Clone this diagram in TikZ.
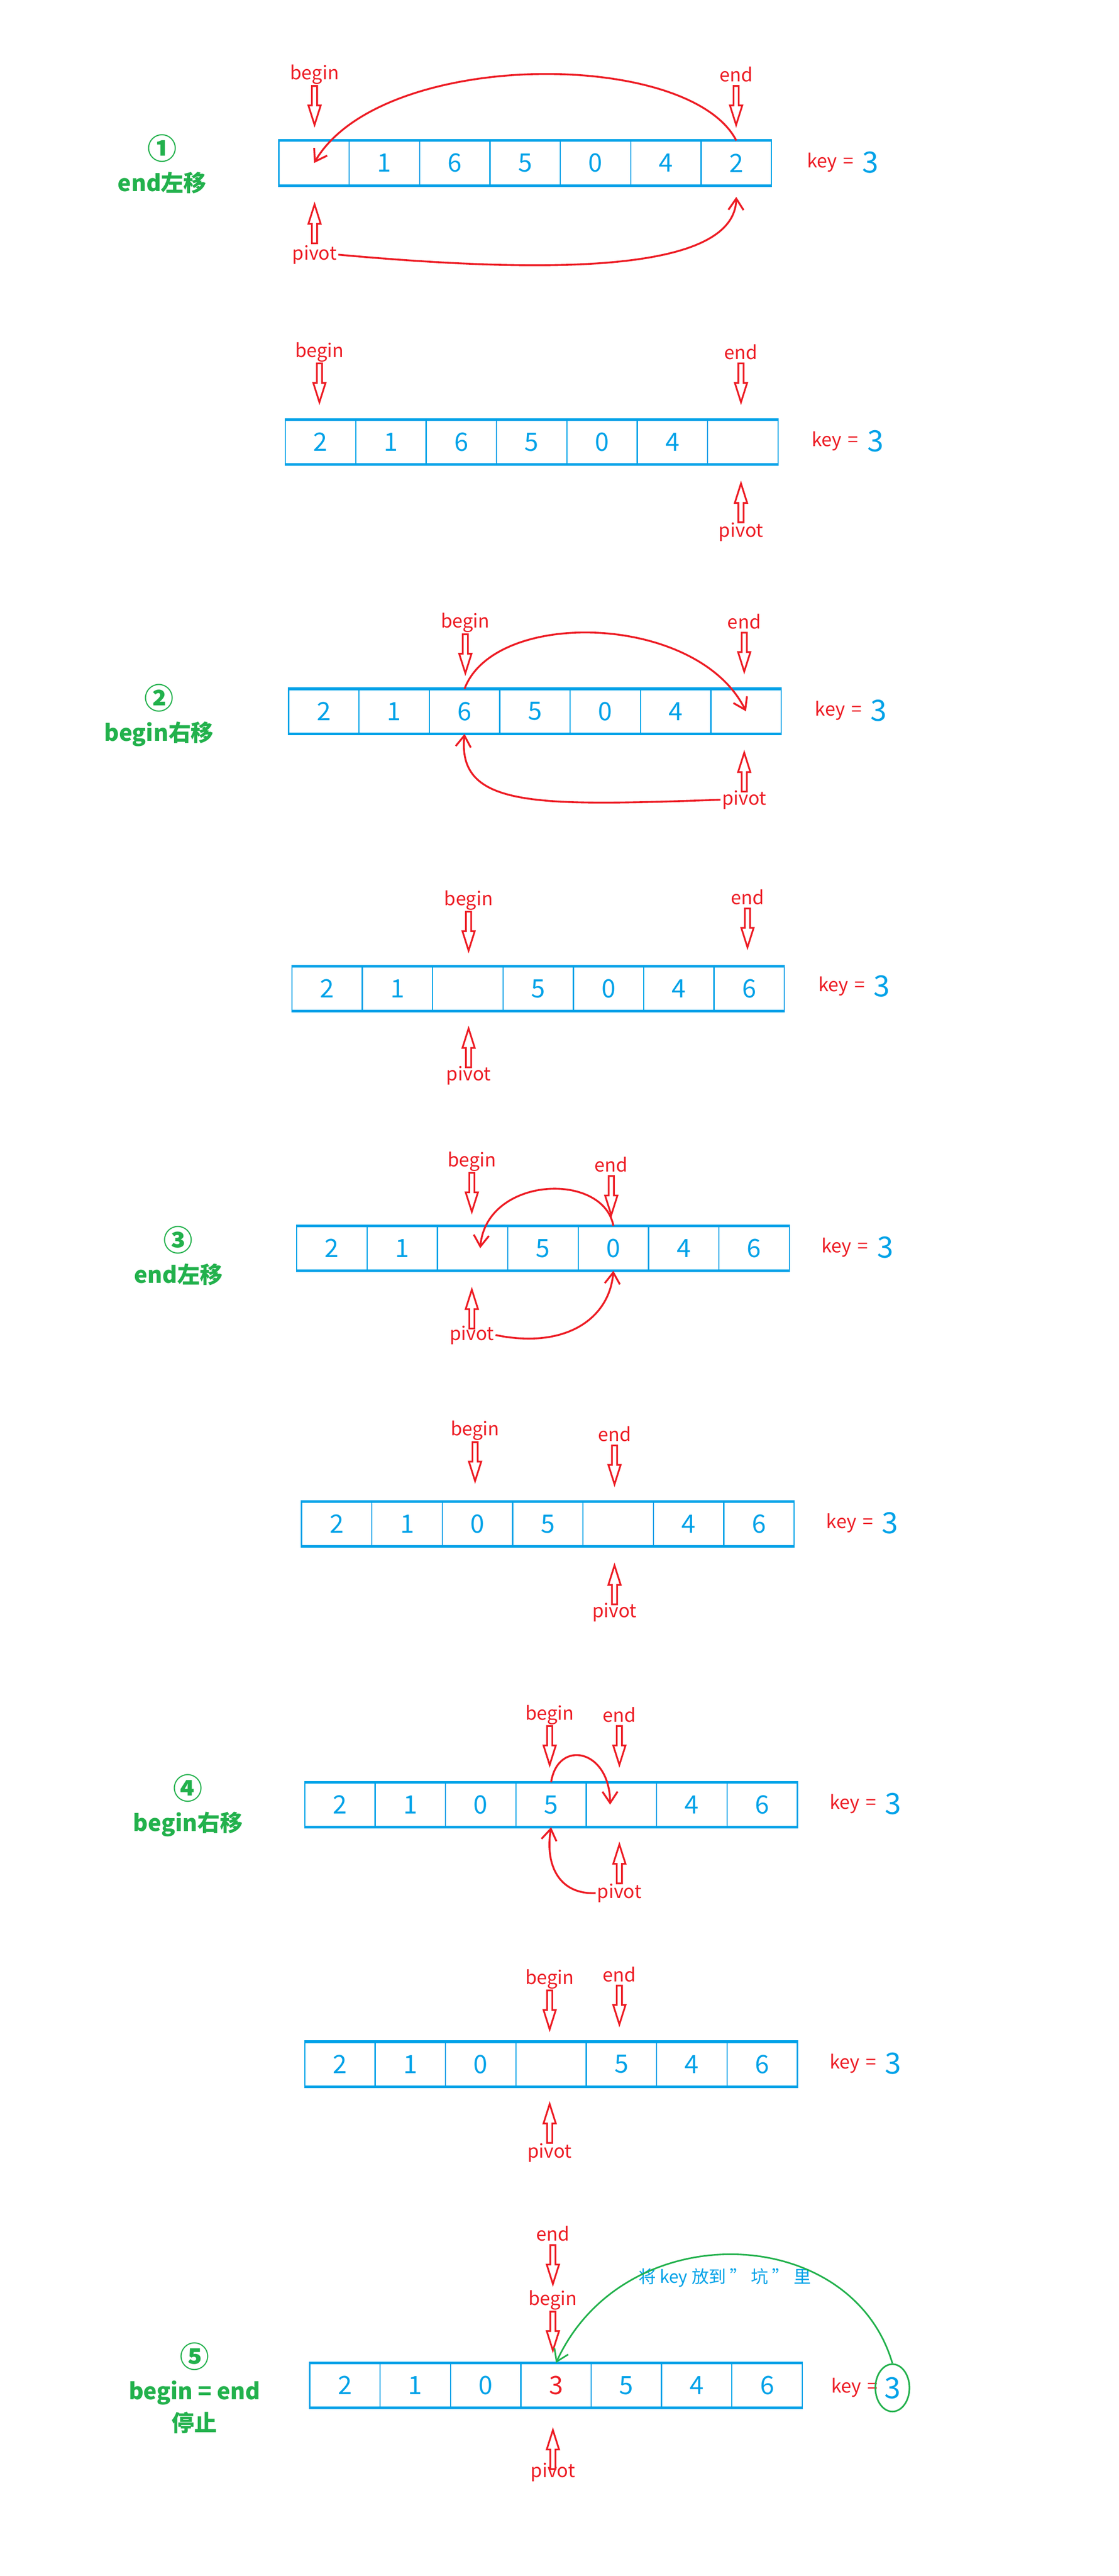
\documentclass[tikz,border=0pt]{standalone}
\usepackage{fontspec}
\setmainfont{Noto Sans CJK SC}
\usetikzlibrary{arrows.meta,positioning,shapes.geometric}
\definecolor{cblue}{RGB}{0,162,232}
\definecolor{kred}{RGB}{237,28,36}
\definecolor{kgreen}{RGB}{34,177,76}
\tikzset{
  cell/.style={draw=cblue,line width=0.9pt,minimum width=1.858cm,minimum height=1.156cm,
    inner sep=0pt,text=cblue,font=\fontsize{19}{22}\selectfont},
  frame/.style={draw=cblue,line width=2pt},
  ptr/.style={text=kred,font=\fontsize{14}{16}\selectfont,inner sep=1pt},
  keylbl/.style={text=kred,font=\fontsize{14}{16}\selectfont,inner sep=1pt},
  keyval/.style={text=cblue,font=\fontsize{22}{24}\selectfont,inner sep=1pt},
  stepnote/.style={text=kgreen,font=\bfseries\fontsize{17}{20}\selectfont,align=center},
  move/.style={kred,line width=1.4pt,-{Straight Barb[length=3mm,width=4mm]}},
  dnarr/.pic={\draw[kred,line width=1.3pt,fill=white]
    (-1.6,0) -- (1.6,0) -- (1.6,12) -- (3.8,12) -- (0,24) -- (-3.8,12) -- (-1.6,12) -- cycle;},
  uparr/.pic={\draw[kred,line width=1.3pt,fill=white]
    (-1.6,24) -- (1.6,24) -- (1.6,12) -- (3.8,12) -- (0,0) -- (-3.8,12) -- (-1.6,12) -- cycle;}
}
% one row of the array: name, left x, top y, values
\newcommand\arrrow[4]{%
  \foreach \v [count=\i] in {#4} {
    \node[cell] (#1-\i) at ({#2+(\i-0.5)*43.4},{#3+13.5}) {\v};
  }
  \draw[frame] (#1-1.north west) -- (#1-7.north east)
    (#1-1.south west) -- (#1-7.south east);
}
\newcommand\stepno[1]{{\fontsize{22}{22}\selectfont #1}}
\begin{document}
\begin{tikzpicture}[x=0.04282cm,y=-0.04282cm]
  \useasboundingbox[fill=white] (0,0) rectangle (690,1588);

  % step 1
  \node[stepnote] (s1) at (100,101) {\stepno{①}\\[4pt]end左移};
  \arrrow{r1}{172}{87}{{},1,6,5,0,4,2}
  \node[ptr] (b1) at (194,46) {begin};  \pic at (194,53) {dnarr};
  \node[ptr] (e1) at (454,46) {end};    \pic at (454,53) {dnarr};
  \pic at (194,126) {uparr};            \node[ptr] (p1) at (194,157) {pivot};
  \node[keylbl] (k1) at (513,100) {key\,\,=\,};
  \node[keyval,right=2pt of k1] (v1) {3};
  \draw[move] (r1-7.north) .. controls (425,30) and (235,30) .. (r1-1.center);
  \draw[move] (p1.east) .. controls (330,168) and (453,170) .. ([yshift=-0.3cm]r1-7.south);

  % result 1
  \arrrow{r2}{176}{259}{2,1,6,5,0,4,{}}
  \node[ptr] (b2) at (197,217) {begin}; \pic at (197,224) {dnarr};
  \node[ptr] (e2) at (457,217) {end};   \pic at (457,224) {dnarr};
  \pic at (457,298) {uparr};            \node[ptr] (p2) at (457,328) {pivot};
  \node[keylbl] (k2) at (516,272) {key\,\,=\,};
  \node[keyval,right=2pt of k2] (v2) {3};

  % step 2
  \node[stepnote] (s2) at (98,441) {\stepno{②}\\[4pt]begin右移};
  \arrrow{r3}{178}{425}{2,1,6,5,0,4,{}}
  \node[ptr] (b3) at (287,384) {begin}; \pic at (287,391) {dnarr};
  \node[ptr] (e3) at (459,383) {end};   \pic at (459,390) {dnarr};
  \pic at (459,464) {uparr};            \node[ptr] (p3) at (459,493) {pivot};
  \node[keylbl] (k3) at (518,438) {key\,\,=\,};
  \node[keyval,right=2pt of k3] (v3) {3};
  \draw[move] (r3-3.north) .. controls (305,375) and (430,378) .. (r3-7.center);
  \draw[move] (p3.west) .. controls (330,497) and (282,498) .. (r3-3.south);

  % result 2
  \arrrow{r4}{180}{596}{2,1,{},5,0,4,6}
  \node[ptr] (b4) at (289,555) {begin}; \pic at (289,562) {dnarr};
  \node[ptr] (e4) at (461,553) {end};   \pic at (461,560) {dnarr};
  \pic at (289,634) {uparr};            \node[ptr] (p4) at (289,663) {pivot};
  \node[keylbl] (k4) at (520,608) {key\,\,=\,};
  \node[keyval,right=2pt of k4] (v4) {3};

  % step 3
  \node[stepnote] (s3) at (110,774) {\stepno{③}\\[4pt]end左移};
  \arrrow{r5}{183}{756}{2,1,{},5,0,4,6}
  \node[ptr] (b5) at (291,716) {begin}; \pic at (291,723) {dnarr};
  \node[ptr] (e5) at (377,718) {end};   \pic at (377,725) {dnarr};
  \pic at (291,795) {uparr};            \node[ptr] (p5) at (291,823) {pivot};
  \node[keylbl] (k5) at (522,769) {key\,\,=\,};
  \node[keyval,right=2pt of k5] (v5) {3};
  \draw[move] (r5-5.north) .. controls (372,722) and (300,725) .. ([xshift=0.2cm]r5-3.center);
  \draw[move] (p5.east) .. controls (350,832) and (376,812) .. (r5-5.south);

  % result 3
  \arrrow{r6}{186}{926}{2,1,0,5,{},4,6}
  \node[ptr] (b6) at (293,882) {begin}; \pic at (293,889) {dnarr};
  \node[ptr] (e6) at (379,884) {end};   \pic at (379,891) {dnarr};
  \pic at (379,965) {uparr};            \node[ptr] (p6) at (379,994) {pivot};
  \node[keylbl] (k6) at (525,939) {key\,\,=\,};
  \node[keyval,right=2pt of k6] (v6) {3};

  % step 4
  \node[stepnote] (s4) at (116,1113) {\stepno{④}\\[4pt]begin右移};
  \arrrow{r7}{188}{1099}{2,1,0,5,{},4,6}
  \node[ptr] (b7) at (339,1057) {begin}; \pic at (339,1064) {dnarr};
  \node[ptr] (e7) at (382,1057) {end};   \pic at (382,1064) {dnarr};
  \pic at (382,1137) {uparr};            \node[ptr] (p7) at (382,1167) {pivot};
  \node[keylbl] (k7) at (527,1112) {key\,\,=\,};
  \node[keyval,right=2pt of k7] (v7) {3};
  \draw[move] (r7-4.north) .. controls (344,1072) and (376,1078) .. ([xshift=-0.3cm]r7-5.center);
  \draw[move] (p7.west) .. controls (345,1168) and (336,1150) .. (r7-4.south);

  % result 4
  \arrrow{r8}{188}{1259}{2,1,0,{},5,4,6}
  \node[ptr] (b8) at (339,1220) {begin}; \pic at (339,1227) {dnarr};
  \node[ptr] (e8) at (382,1217) {end};   \pic at (382,1224) {dnarr};
  \pic at (339,1297) {uparr};            \node[ptr] (p8) at (339,1327) {pivot};
  \node[keylbl] (k8) at (527,1272) {key\,\,=\,};
  \node[keyval,right=2pt of k8] (v8) {3};

  % step 5
  \node[stepnote] (s5) at (120,1472) {\stepno{⑤}\\[4pt]begin = end\\[4pt]停止};
  \arrrow{r9}{191}{1457}{2,1,0,{\color{kred}3},5,4,6}
  \node[ptr] (e9) at (341,1377) {end};   \pic at (341,1384) {dnarr};
  \node[ptr] (b9) at (341,1418) {begin}; \pic at (341,1425) {dnarr};
  \pic at (341,1498) {uparr};            \node[ptr] (p9) at (341,1524) {pivot};
  \node[keylbl] (k9) at (528,1472) {key\,\,=\,};
  \node[keyval,draw=kgreen,line width=1.2pt,ellipse,inner sep=2pt,minimum width=0.9cm,
    minimum height=1.25cm,right=-6pt of k9] (v9) {3};
  \node[text=cblue,font=\fontsize{13}{15}\selectfont] (t9) at (447,1404) {将 key 放到 \char34\ 坑 \char34\ 里};
  \draw[kgreen,line width=1.2pt,-{Straight Barb[length=3mm,width=4mm]}]
    (v9.north) .. controls (525,1370) and (385,1365) .. (r9-4.north);
\end{tikzpicture}
\end{document}
